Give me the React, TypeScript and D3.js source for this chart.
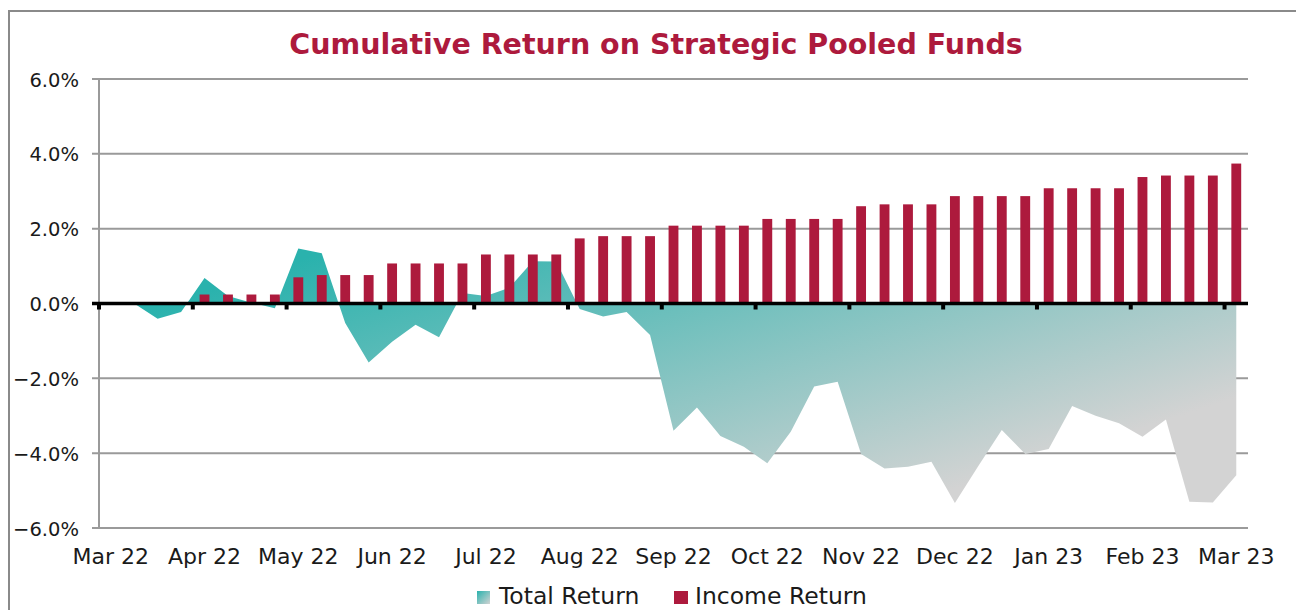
import React from "react";
import * as d3 from "d3";

const monthLabels = ["Mar 22","Apr 22","May 22","Jun 22","Jul 22","Aug 22","Sep 22","Oct 22","Nov 22","Dec 22","Jan 23","Feb 23","Mar 23"];
const yTicks = [-6, -4, -2, 0, 2, 4, 6];

const incomeReturn = [
  0, 0, 0, 0,
  0.24, 0.24, 0.24, 0.24,
  0.70, 0.76, 0.76, 0.76,
  1.07, 1.07, 1.07, 1.07,
  1.31, 1.31, 1.31, 1.31,
  1.74, 1.80, 1.80, 1.80,
  2.08, 2.08, 2.08, 2.08,
  2.26, 2.26, 2.26, 2.26,
  2.60, 2.65, 2.65, 2.65,
  2.87, 2.87, 2.87, 2.87,
  3.08, 3.08, 3.08, 3.08,
  3.38, 3.42, 3.42, 3.42,
  3.74,
];

const totalReturn = [
  0, 0, -0.41, -0.23,
  0.68, 0.2, 0.02, -0.13,
  1.47, 1.34, -0.52, -1.58,
  -1.02, -0.57, -0.9, 0.28,
  0.2, 0.42, 1.13, 1.12,
  -0.15, -0.35, -0.23, -0.84,
  -3.40, -2.78, -3.54, -3.83,
  -4.27, -3.43, -2.22, -2.09,
  -4.02, -4.41, -4.36, -4.23,
  -5.33, -4.34, -3.38, -4.02,
  -3.89, -2.74, -3.00, -3.20,
  -3.56, -3.10, -5.30, -5.32,
  -4.59,
];

const W = 1296, H = 610;
const plotL = 99, plotR = 1248, plotT = 79, plotB = 528;
const FONT = "'DejaVu Sans', Verdana, sans-serif";
const CRIMSON = "#AD1A3D";

export default function App() {
  const idx = totalReturn.map((_, i) => i);
  const x = d3.scaleBand<number>().domain(idx).range([plotL, plotR]).padding(0);
  const y = d3.scaleLinear().domain([-6, 6]).range([plotB, plotT]);
  const cx = (i: number) => (x(i) as number) + x.bandwidth() / 2;
  const barW = x.bandwidth() * 0.42;

  const area = d3.area<number>()
    .x((_, i) => cx(i))
    .y0(y(0))
    .y1((d) => y(d));

  return (
    <svg width={W} height={H} style={{ position: "absolute", left: 0, top: 0, background: "#fff" }}>
      <defs>
        <linearGradient id="tr" gradientUnits="userSpaceOnUse" x1={300} y1={260} x2={430} y2={660}>
          <stop offset="0" stopColor="#2AB2AD" />
          <stop offset="1" stopColor="#D3D3D3" />
        </linearGradient>
        <linearGradient id="trLeg" x1="0" y1="0" x2="1" y2="1">
          <stop offset="0" stopColor="#2AB2AD" />
          <stop offset="1" stopColor="#D3D3D3" />
        </linearGradient>
      </defs>
      <rect x={0} y={0} width={W} height={H} fill="#fff" />
      <rect x={9} y={11} width={1400} height={700} fill="none" stroke="#8a8a8a" strokeWidth={2} />

      <text x={656} y={54} textAnchor="middle" fontFamily={FONT} fontWeight="bold" fontSize={28.5} fill={CRIMSON}>
        Cumulative Return on Strategic Pooled Funds
      </text>

      {/* gridlines */}
      {yTicks.filter((t) => t !== 0).map((t) => (
        <line key={t} x1={92} x2={plotR} y1={y(t)} y2={y(t)} stroke="#9a9a9a" strokeWidth={2} />
      ))}
      <line x1={plotL} x2={plotL} y1={plotT} y2={plotB + 1} stroke="#9a9a9a" strokeWidth={2} />

      {/* y labels */}
      {yTicks.map((t) => (
        <text key={t} x={79} y={y(t) + 1} textAnchor="end" dominantBaseline="central" fontFamily={FONT} fontSize={19.5} fill="#1a1a1a">
          {d3.format(".1f")(t) + "%"}
        </text>
      ))}

      {/* total return area */}
      <path d={area(totalReturn) || ""} fill="url(#tr)" />

      {/* income bars */}
      {incomeReturn.map((v, i) => v > 0 ? (
        <rect key={i} x={cx(i) - barW / 2} y={y(v)} width={barW} height={y(0) - y(v)} fill={CRIMSON} />
      ) : null)}

      {/* zero line */}
      <line x1={92} x2={plotR} y1={y(0)} y2={y(0)} stroke="#000" strokeWidth={3.5} />
      {monthLabels.map((m, k) => (
        <rect key={m} x={(x(k * 4) as number) - 2} y={y(0)} width={4} height={6} fill="#000" />
      ))}

      {/* x labels */}
      {monthLabels.map((m, k) => (
        <text key={m} x={cx(k * 4)} y={564} textAnchor="middle" fontFamily={FONT} fontSize={22} fill="#1a1a1a">
          {m}
        </text>
      ))}

      {/* legend */}
      <rect x={477} y={591} width={13} height={13} fill="url(#trLeg)" />
      <text x={499} y={604} fontFamily={FONT} fontSize={23.5} fill="#1a1a1a">Total Return</text>
      <rect x={674} y={591} width={14} height={13} fill={CRIMSON} />
      <text x={695} y={604} fontFamily={FONT} fontSize={23.5} fill="#1a1a1a">Income Return</text>
    </svg>
  );
}
